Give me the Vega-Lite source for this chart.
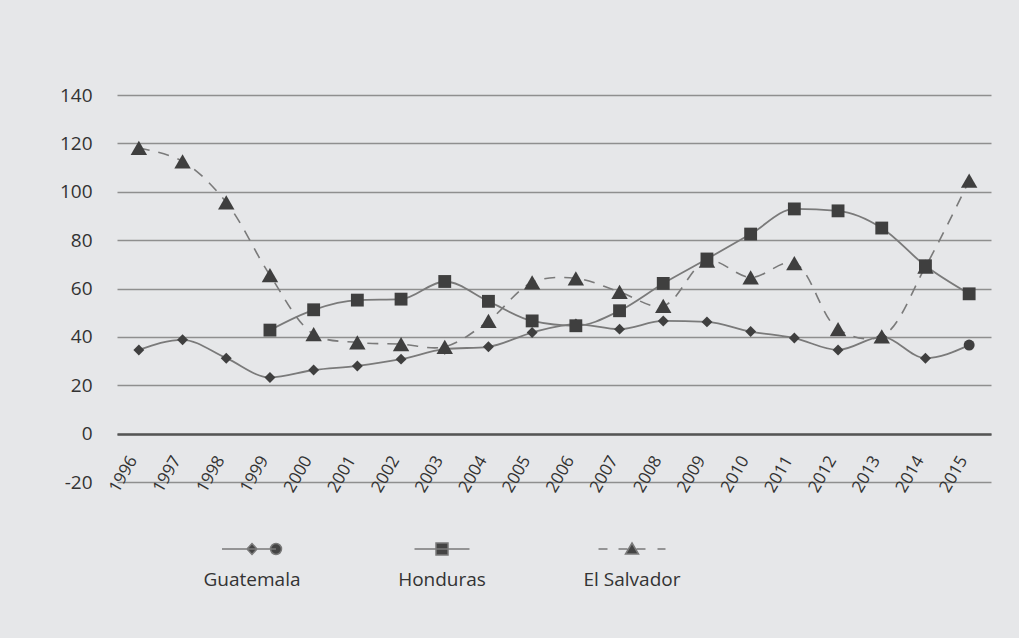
{
  "$schema": "https://vega.github.io/schema/vega-lite/v6.json",
  "width": 874,
  "height": 387,
  "autosize": "none",
  "padding": {"left": 117, "top": 95, "right": 28, "bottom": 156},
  "background": "#e6e7e9",
  "config": {
    "view": {"stroke": null},
    "font": "Open Sans, sans-serif"
  },
  "data": {
    "values": [
      {"year": "1996", "country": "Guatemala", "value": 34.6},
      {"year": "1997", "country": "Guatemala", "value": 38.8},
      {"year": "1998", "country": "Guatemala", "value": 31.2},
      {"year": "1999", "country": "Guatemala", "value": 23.2},
      {"year": "2000", "country": "Guatemala", "value": 26.3},
      {"year": "2001", "country": "Guatemala", "value": 28.0},
      {"year": "2002", "country": "Guatemala", "value": 30.8},
      {"year": "2003", "country": "Guatemala", "value": 34.9},
      {"year": "2004", "country": "Guatemala", "value": 35.9},
      {"year": "2005", "country": "Guatemala", "value": 41.8},
      {"year": "2006", "country": "Guatemala", "value": 45.3},
      {"year": "2007", "country": "Guatemala", "value": 43.2},
      {"year": "2008", "country": "Guatemala", "value": 46.6},
      {"year": "2009", "country": "Guatemala", "value": 46.2},
      {"year": "2010", "country": "Guatemala", "value": 42.2},
      {"year": "2011", "country": "Guatemala", "value": 39.5},
      {"year": "2012", "country": "Guatemala", "value": 34.6},
      {"year": "2013", "country": "Guatemala", "value": 40.0},
      {"year": "2014", "country": "Guatemala", "value": 31.2},
      {"year": "2015", "country": "Guatemala", "value": 36.6},
      {"year": "1996", "country": "El Salvador", "value": 118.1},
      {"year": "1997", "country": "El Salvador", "value": 112.6},
      {"year": "1998", "country": "El Salvador", "value": 95.6},
      {"year": "1999", "country": "El Salvador", "value": 65.5},
      {"year": "2000", "country": "El Salvador", "value": 41.1},
      {"year": "2001", "country": "El Salvador", "value": 37.7},
      {"year": "2002", "country": "El Salvador", "value": 37.0},
      {"year": "2003", "country": "El Salvador", "value": 35.9},
      {"year": "2004", "country": "El Salvador", "value": 46.6},
      {"year": "2005", "country": "El Salvador", "value": 62.5},
      {"year": "2006", "country": "El Salvador", "value": 64.2},
      {"year": "2007", "country": "El Salvador", "value": 58.6},
      {"year": "2008", "country": "El Salvador", "value": 52.8},
      {"year": "2009", "country": "El Salvador", "value": 71.5},
      {"year": "2010", "country": "El Salvador", "value": 64.6},
      {"year": "2011", "country": "El Salvador", "value": 70.5},
      {"year": "2012", "country": "El Salvador", "value": 43.2},
      {"year": "2013", "country": "El Salvador", "value": 40.2},
      {"year": "2014", "country": "El Salvador", "value": 69.0},
      {"year": "2015", "country": "El Salvador", "value": 104.6},
      {"year": "1999", "country": "Honduras", "value": 42.8},
      {"year": "2000", "country": "Honduras", "value": 51.2},
      {"year": "2001", "country": "Honduras", "value": 55.2},
      {"year": "2002", "country": "Honduras", "value": 55.6},
      {"year": "2003", "country": "Honduras", "value": 62.9},
      {"year": "2004", "country": "Honduras", "value": 54.7},
      {"year": "2005", "country": "Honduras", "value": 46.6},
      {"year": "2006", "country": "Honduras", "value": 44.6},
      {"year": "2007", "country": "Honduras", "value": 50.8},
      {"year": "2008", "country": "Honduras", "value": 62.1},
      {"year": "2009", "country": "Honduras", "value": 72.2},
      {"year": "2010", "country": "Honduras", "value": 82.5},
      {"year": "2011", "country": "Honduras", "value": 92.9},
      {"year": "2012", "country": "Honduras", "value": 92.1},
      {"year": "2013", "country": "Honduras", "value": 85.0},
      {"year": "2014", "country": "Honduras", "value": 69.4},
      {"year": "2015", "country": "Honduras", "value": 57.8}
    ]
  },
  "encoding": {
    "x": {
      "field": "year",
      "type": "ordinal",
      "title": null,
      "scale": {"type": "point", "padding": 0.5},
      "axis": {
        "offset": -48,
        "grid": false,
        "ticks": false,
        "domain": true,
        "domainColor": "#555555",
        "domainWidth": 2.5,
        "labelAngle": -60,
        "labelAlign": "right",
        "labelBaseline": "middle",
        "labelPadding": 23,
        "labelOffset": -6,
        "labelFontSize": 17,
        "labelColor": "#333333"
      }
    },
    "y": {
      "field": "value",
      "type": "quantitative",
      "title": null,
      "scale": {"domain": [-20, 140], "nice": false, "zero": false},
      "axis": {
        "values": [-20, 0, 20, 40, 60, 80, 100, 120, 140],
        "labelExpr": "replace(datum.label, '\u2212', '-')",
        "domain": false,
        "ticks": false,
        "grid": true,
        "gridColor": "#8f8f8f",
        "gridWidth": 1.5,
        "labelPadding": 25,
        "labelFontSize": 19,
        "labelColor": "#333333"
      }
    }
  },
  "layer": [
    {
      "transform": [{"filter": "datum.country !== 'El Salvador'"}],
      "mark": {"type": "line", "interpolate": "monotone", "strokeWidth": 1.8, "color": "#7a7a7a"},
      "encoding": {
        "detail": {"field": "country"}
      }
    },
    {
      "transform": [{"filter": "datum.country === 'El Salvador'"}],
      "mark": {"type": "line", "interpolate": "catmull-rom", "strokeWidth": 1.6, "color": "#7a7a7a", "strokeDash": [11, 9]},
      "encoding": {}
    },
    {
      "mark": {"type": "point", "filled": true, "color": "#3f3f3f"},
      "encoding": {
        "shape": {
          "condition": [
            {"test": "datum.country === 'Guatemala' && datum.year === '2015'", "value": "circle"},
            {"test": "datum.country === 'Guatemala'", "value": "diamond"},
            {"test": "datum.country === 'Honduras'", "value": "square"}
          ],
          "value": "triangle-up"
        },
        "size": {
          "condition": [
            {"test": "datum.country === 'El Salvador'", "value": 270},
            {"test": "datum.country === 'Honduras'", "value": 165}
          ],
          "value": 120
        },
        "opacity": {
          "field": "country",
          "type": "nominal",
          "scale": {"domain": ["Guatemala", "Honduras", "El Salvador"], "range": [1, 1, 1]},
          "legend": {
            "title": null,
            "orient": "none",
            "legendX": 135,
            "legendY": 454,
            "direction": "horizontal",
            "columns": 3,
            "columnPadding": 97,
            "symbolSize": 100,
            "labelFontSize": 19,
            "labelColor": "#333333",
            "encoding": {
              "symbols": {
                "shape": {
                  "condition": [
                    {"test": "datum.value === 'Guatemala'", "value": "M-6,0L4.8,0M-1,0L0,-1.1L1,0L0,1.1ZM3.7,0A1.1,1.1,0,1,0,5.9,0A1.1,1.1,0,1,0,3.7,0Z"},
                    {"test": "datum.value === 'Honduras'", "value": "M-5.5,0L5.5,0M-1.2,-1.2L1.2,-1.2L1.2,1.2L-1.2,1.2Z"}
                  ],
                  "value": "M-6.7,0L-4.9,0M-2.7,0L-0.9,0M0.9,0L2.7,0M5.1,0L6.7,0M0,-1.2L1.3,1L-1.3,1Z"
                },
                "size": {"value": 100},
                "fill": {"value": "#444444"},
                "stroke": {"value": "#7a7a7a"},
                "strokeWidth": {"value": 1.5},
                "x": {"value": 0},
                "y": {"value": 0}
              },
              "labels": {
                "x": {"value": 0},
                "y": {"value": 31},
                "align": {"value": "center"},
                "baseline": {"value": "middle"}
              }
            }
          }
        }
      }
    }
  ]
}
